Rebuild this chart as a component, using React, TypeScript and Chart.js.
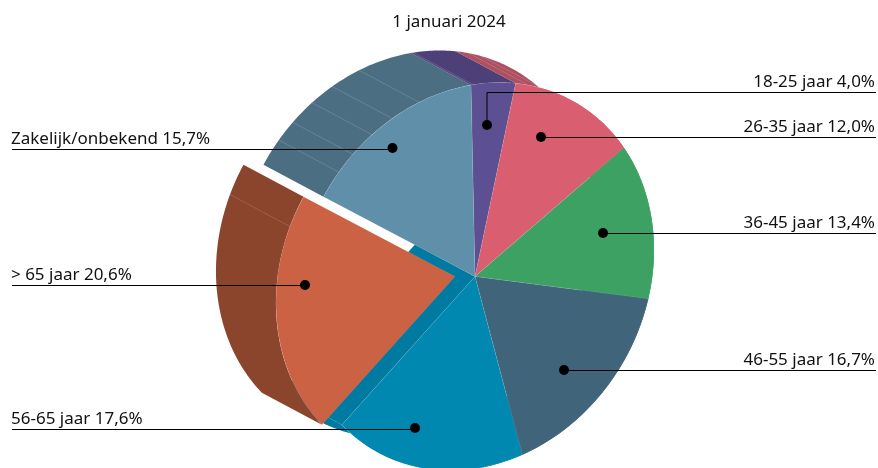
import React, { useEffect, useRef } from "react";
import { Chart, registerables } from "chart.js";

Chart.register(...registerables);

const categories = ["18-25 jaar", "26-35 jaar", "36-45 jaar", "46-55 jaar", "56-65 jaar", "> 65 jaar", "Zakelijk/onbekend"];
const shares = [4.0, 12.0, 13.4, 16.7, 17.6, 20.6, 15.7];
const title = "1 januari 2024";

const topColors = ["#5c4f92", "#d95f70", "#3ca163", "#40647a", "#0088b0", "#cc6244", "#6090a9"];
const wallColors = ["#4d3f78", "#ad5060", "#2f8050", "#33505f", "#007aa0", "#8a452c", "#4b6e82"];

// Facet seams on the side walls, as a share of the full turn (0-100)
const seams = [0.2, 5.2, 6.4, 81.7, 86.6, 88.4, 90.6, 92.7, 95.3];

const FONT = "'Noto Sans'";
const FONT_SIZE = 17;

// Projection of the flat pie on the page
const CENTER = { x: 475, y: 276.5 };
const U = { x: 179, y: -31 };
const W = { x: -4, y: -191.5 };
const DEPTH = { x: -60, y: -32 };
const PULLED = 5;
const PULL = { x: -20, y: 0 };

const callouts = [
  { side: "R", lineY: 92, dotX: 487, dotY: 125 },
  { side: "R", lineY: 137, dotX: 541, dotY: 137 },
  { side: "R", lineY: 233, dotX: 603, dotY: 233 },
  { side: "R", lineY: 370, dotX: 564, dotY: 370 },
  { side: "L", lineY: 429, dotX: 415, dotY: 428 },
  { side: "L", lineY: 285, dotX: 305, dotY: 285 },
  { side: "L", lineY: 149, dotX: 392.5, dotY: 148 },
];

const fmt = (v: number) => v.toFixed(1).replace(".", ",") + "%";

function matrix(chart: any) {
  const arc = chart.getDatasetMeta(0).data[0];
  const r = arc.outerRadius;
  const base = chart.$pieBase || { x: arc.x, y: arc.y };
  const a = U.x / r, b = U.y / r, c = -W.x / r, d = -W.y / r;
  const e = CENTER.x - a * base.x - c * base.y;
  const f = CENTER.y - b * base.x - d * base.y;
  return { a, b, c, d, e, f };
}

const project3D = {
  id: "project3D",
  afterDatasetsUpdate(chart: any) {
    const meta = chart.getDatasetMeta(0);
    const arc = meta.data[PULLED];
    chart.$pieBase = { x: meta.data[0].x, y: meta.data[0].y };
    const m = matrix(chart);
    const det = m.a * m.d - m.b * m.c;
    arc.x += (m.d * PULL.x - m.c * PULL.y) / det;
    arc.y += (-m.b * PULL.x + m.a * PULL.y) / det;
  },
  beforeDatasetsDraw(chart: any) {
    const ctx = chart.ctx;
    const m = matrix(chart);
    const meta = chart.getDatasetMeta(0);
    const map = (x: number, y: number) => ({ x: m.a * x + m.c * y + m.e, y: m.b * x + m.d * y + m.f });
    const rim = (el: any, t: number) =>
      map(el.x + el.outerRadius * Math.cos(t), el.y + el.outerRadius * Math.sin(t));

    ctx.save();
    const order = [6, 0, 1, 2, 3, 4, 5];
    order.forEach((i) => {
      const el = meta.data[i];
      const pts: any[] = [];
      const n = 60;
      for (let k = 0; k <= n; k++) pts.push(rim(el, el.startAngle + ((el.endAngle - el.startAngle) * k) / n));
      ctx.beginPath();
      pts.forEach((p, k) => (k ? ctx.lineTo(p.x, p.y) : ctx.moveTo(p.x, p.y)));
      for (let k = n; k >= 0; k--) ctx.lineTo(pts[k].x + DEPTH.x, pts[k].y + DEPTH.y);
      ctx.closePath();
      ctx.fillStyle = wallColors[i];
      ctx.fill();
      if (i === 4) {
        // cut face left open by the pulled slice
        const c = map(el.x, el.y);
        const p = pts[n];
        ctx.beginPath();
        ctx.moveTo(c.x, c.y);
        ctx.lineTo(p.x, p.y);
        ctx.lineTo(p.x + DEPTH.x, p.y + DEPTH.y);
        ctx.lineTo(c.x + DEPTH.x, c.y + DEPTH.y);
        ctx.closePath();
        ctx.fill();
      }
    });

    // seams
    const total = shares.reduce((s, v) => s + v, 0);
    ctx.lineWidth = 0.7;
    ctx.strokeStyle = "rgba(255,255,255,0.22)";
    seams.forEach((s) => {
      let acc = 0, idx = 0;
      for (let i = 0; i < shares.length; i++) {
        if (s >= acc && s < acc + shares[i]) idx = i;
        acc += shares[i];
      }
      const el = meta.data[idx];
      const p = rim(el, -Math.PI / 2 + (s / total) * Math.PI * 2);
      ctx.beginPath();
      ctx.moveTo(p.x, p.y);
      ctx.lineTo(p.x + DEPTH.x, p.y + DEPTH.y);
      ctx.stroke();
    });
    ctx.restore();

    ctx.save();
    ctx.transform(m.a, m.b, m.c, m.d, m.e, m.f);
  },
  afterDatasetsDraw(chart: any) {
    chart.ctx.restore();
  },
  afterDraw(chart: any) {
    const ctx = chart.ctx;
    ctx.save();
    ctx.font = `${FONT_SIZE}px ${FONT}`;
    ctx.fillStyle = "#111";
    ctx.textBaseline = "alphabetic";
    callouts.forEach((c, i) => {
      const text = `${categories[i]} ${fmt(shares[i])}`;
      const right = c.side === "R";
      ctx.textAlign = right ? "right" : "left";
      ctx.fillText(text, right ? 875 : 11, c.lineY - 5.5);
      ctx.strokeStyle = "#000";
      ctx.lineWidth = 1;
      ctx.beginPath();
      ctx.moveTo(right ? 876 : 12, c.lineY + 0.5);
      ctx.lineTo(c.dotX, c.lineY + 0.5);
      if (c.dotY !== c.lineY) ctx.lineTo(c.dotX, c.dotY);
      ctx.stroke();
      ctx.beginPath();
      ctx.arc(c.dotX, c.dotY, 5, 0, Math.PI * 2);
      ctx.fillStyle = "#000";
      ctx.fill();
      ctx.fillStyle = "#111";
    });
    ctx.restore();
  },
};

export default function App() {
  const ref = useRef<HTMLCanvasElement>(null);
  useEffect(() => {
    document.body.style.margin = "0";
    const chart = new Chart(ref.current as HTMLCanvasElement, {
      type: "pie",
      data: {
        labels: categories,
        datasets: [
          {
            data: shares,
            backgroundColor: topColors,
            borderColor: "rgba(255,255,255,0.18)",
            borderWidth: 0.5,
            clip: false,
          } as any,
        ],
      },
      options: {
        responsive: false,
        animation: false,
        events: [],
        layout: { padding: { left: 20 } },
        plugins: {
          legend: { display: false },
          tooltip: { enabled: false },
          title: {
            display: true,
            text: title,
            color: "#111",
            font: { family: "Noto Sans", size: FONT_SIZE, weight: "normal" },
            padding: { top: 12, bottom: 10 },
          },
        },
      },
      plugins: [project3D],
    });
    return () => chart.destroy();
  }, []);
  return (
    <div style={{ position: "absolute", left: 0, top: 0, width: 878, height: 468 }}>
      <canvas ref={ref} width={878} height={468} style={{ display: "block" }} />
    </div>
  );
}
